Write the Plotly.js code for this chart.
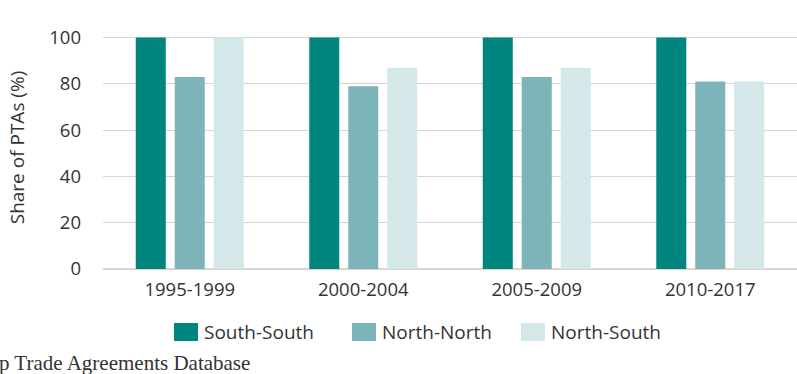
<!DOCTYPE html>
<html>
<head>
<meta charset="utf-8">
<script src="https://cdn.plot.ly/plotly-3.0.1.min.js"></script>
<style>html,body{margin:0;padding:0;background:#fff;}#chart{width:797px;height:374px;}</style>
</head>
<body>
<div id="chart"></div>
<script>
const periods = ["1995-1999", "2000-2004", "2005-2009", "2010-2017"];
const seriesNames = ["South-South", "North-North", "North-South"];
const southSouth = [100, 100, 100, 100];
const northNorth = [83, 79, 83, 81];
const northSouth = [100, 87, 87, 81];
const yTicks = [0, 20, 40, 60, 80, 100];
const sourceNote = "p Trade Agreements Database";

const colors = ["#00857f", "#7db4ba", "#d4e8ea"];
const font = "Open Sans, Noto Sans, sans-serif";
const W = 797, H = 374, ML = 103, MR = 0, MT = 26, MB = 105;
const pw = W - ML - MR, ph = H - MT - MB;
const px = v => (v - ML) / pw;          // pixel -> paper x
const py = v => (H - MB - v) / ph;      // pixel -> paper y

const values = [southSouth, northNorth, northSouth];
const traces = seriesNames.map((n, i) => ({
  type: "bar", name: n, x: periods, y: values[i],
  marker: {color: colors[i]}, showlegend: false
}));

// manual legend (larger swatches like the reference)
const legendSwatchX = [174, 352, 521];
const shapes = [], annotations = [];
seriesNames.forEach((n, i) => {
  const x0 = legendSwatchX[i];
  shapes.push({type: "rect", xref: "paper", yref: "paper",
    x0: px(x0), x1: px(x0 + 24), y0: py(341), y1: py(323),
    fillcolor: colors[i], line: {width: 0}, layer: "above"});
  annotations.push({text: n, xref: "paper", yref: "paper",
    x: px(x0 + 28), y: py(332), xanchor: "left", yanchor: "middle",
    showarrow: false, font: {family: font, size: 19, color: "#333333"}});
});
annotations.push({
  text: sourceNote, xref: "paper", yref: "paper", x: px(-3), y: py(349),
  xanchor: "left", yanchor: "top", showarrow: false,
  font: {family: "Liberation Serif, DejaVu Serif, serif", size: 21, color: "#333333"}
});

const layout = {
  width: W, height: H,
  margin: {l: ML, r: MR, t: MT, b: MB},
  paper_bgcolor: "#ffffff", plot_bgcolor: "#ffffff",
  barmode: "group", bargap: 0.326, bargroupgap: 0.23,
  showlegend: false,
  font: {family: font, size: 18, color: "#333333"},
  xaxis: {
    showgrid: false, zeroline: false, showline: false,
    ticks: "", tickfont: {size: 18.5, color: "#333333"},
    ticklabelstandoff: 7
  },
  yaxis: {
    range: [0, 105], tickvals: yTicks, ticktext: yTicks.map(String),
    showgrid: true, gridcolor: "#ddd3d3", gridwidth: 1.2,
    zeroline: true, zerolinecolor: "#ddd3d3", zerolinewidth: 1.2,
    showline: false, ticks: "", ticklabelstandoff: 21,
    tickfont: {size: 18.5, color: "#333333"},
    title: {text: "Share of PTAs (%)", font: {size: 19, color: "#333333"}, standoff: 19}
  },
  shapes: shapes,
  annotations: annotations
};
Plotly.newPlot("chart", traces, layout, {displayModeBar: false, staticPlot: true});
</script>
</body>
</html>
